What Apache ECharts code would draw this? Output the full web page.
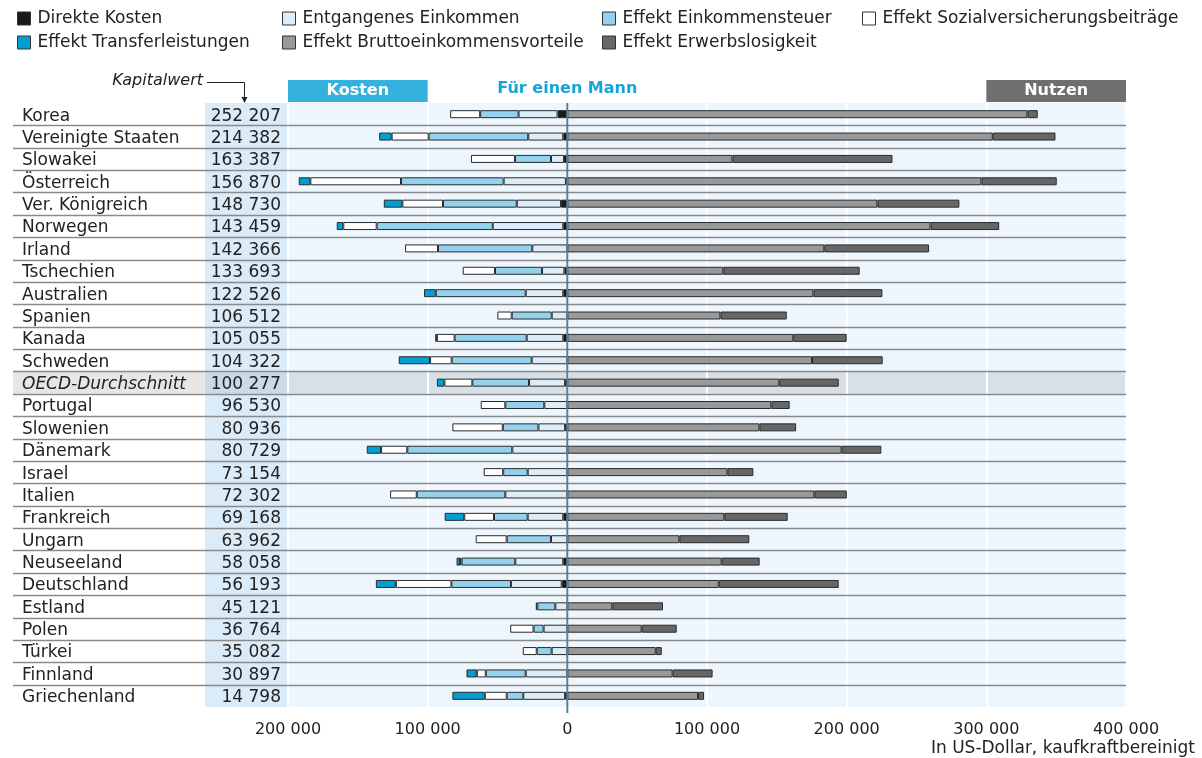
<!DOCTYPE html>
<html><head><meta charset="utf-8">
<script src="https://cdn.jsdelivr.net/npm/echarts@6/dist/echarts.min.js"></script>
<style>html,body{margin:0;padding:0;background:#fff}#c{width:1202px;height:758px}</style>
</head><body><div id="c"></div>
<script>
const categories = ['Korea','Vereinigte Staaten','Slowakei','Österreich','Ver. Königreich','Norwegen','Irland','Tschechien','Australien','Spanien','Kanada','Schweden','OECD-Durchschnitt','Portugal','Slowenien','Dänemark','Israel','Italien','Frankreich','Ungarn','Neuseeland','Deutschland','Estland','Polen','Türkei','Finnland','Griechenland'];
const kapitalwert = [252207,214382,163387,156870,148730,143459,142366,133693,122526,106512,105055,104322,100277,96530,80936,80729,73154,72302,69168,63962,58058,56193,45121,36764,35082,30897,14798];
// Kosten (positive numbers, drawn to the left)
const direkteKosten = [7000,2900,2400,1000,4500,2900,0,2100,2900,0,2900,0,1600,0,1600,0,0,0,2900,0,2900,4000,0,0,0,0,1600];
const entgangenesEinkommen = [27900,25100,9300,44600,31700,50500,25100,16000,26900,11200,26200,25500,25800,16500,19100,39400,28400,44400,25500,11700,34400,36300,8600,17000,11200,29800,29900];
const effektEinkommensteuer = [27500,71300,25800,73500,52800,83100,67500,33700,64400,28600,51600,57300,40600,27900,25500,75200,17500,63400,24100,31700,38400,42700,12900,7200,10700,28600,11900];
const effektSozialversicherung = [21500,26500,31500,64900,29100,23900,23600,23100,0,10300,12700,15500,20000,17600,36100,18800,14000,19100,21300,22200,1200,39800,1100,16700,10000,6400,15700];
const effektTransferleistungen = [0,8900,0,8300,13300,4700,0,0,8400,0,1200,22400,5400,0,0,10200,0,0,14000,0,2400,14300,0,0,0,7400,23200];
// Nutzen (drawn to the right)
const bruttoeinkommensvorteile = [329400,304600,118200,296500,222000,260000,184000,111700,176200,109600,161800,175200,151800,146100,137500,196400,114600,176900,112400,80200,110500,108400,32200,53200,63300,75400,93600];
const erwerbslosigkeit = [7400,44900,114600,53900,58700,49200,75000,97600,49400,47500,38200,50600,42500,13100,26300,28400,18600,23200,45400,50100,27200,85900,36300,25100,4300,28600,4300];
const xTicks = [-200000,-100000,0,100000,200000,300000,400000];

const FONT = 'DejaVu Sans';
const TXT = '#222';
const fmt = v => String(Math.abs(v)).replace(/\B(?=(\d{3})+(?!\d))/g, ' ');
const neg = a => a.map(v => v ? -v : '-');
const pos = a => a.map(v => v ? v : '-');

const seriesDef = [
  ['Direkte Kosten', neg(direkteKosten), '#1a1a1a'],
  ['Entgangenes Einkommen', neg(entgangenesEinkommen), '#dcedf9'],
  ['Effekt Einkommensteuer', neg(effektEinkommensteuer), '#94d1ec'],
  ['Effekt Sozialversicherungsbeiträge', neg(effektSozialversicherung), '#ffffff'],
  ['Effekt Transferleistungen', neg(effektTransferleistungen), '#039fd2'],
  ['Effekt Bruttoeinkommensvorteile', pos(bruttoeinkommensvorteile), '#999999'],
  ['Effekt Erwerbslosigkeit', pos(erwerbslosigkeit), '#676767']
];

const chart = echarts.init(document.getElementById('c'), null, {renderer: 'canvas'});

function legendCol(left, names) {
  return {
    left: left, top: 10, orient: 'vertical', padding: 0, itemGap: 7,
    itemWidth: 13, itemHeight: 13, icon: 'rect', selectedMode: false,
    itemStyle: {borderColor: '#333', borderWidth: 1},
    textStyle: {fontFamily: FONT, fontSize: 17, color: TXT, padding: [0, 0, 0, 2], lineHeight: 17},
    data: names
  };
}

chart.setOption({
  animation: false,
  textStyle: {fontFamily: FONT},
  legend: [
    legendCol(17, ['Direkte Kosten', 'Effekt Transferleistungen']),
    legendCol(282, ['Entgangenes Einkommen', 'Effekt Bruttoeinkommensvorteile']),
    legendCol(602, ['Effekt Einkommensteuer', 'Effekt Erwerbslosigkeit']),
    legendCol(862, ['Effekt Sozialversicherungsbeiträge'])
  ],
  title: {
    text: 'In US-Dollar, kaufkraftbereinigt', right: 7, top: 740, padding: 0,
    textStyle: {fontFamily: FONT, fontSize: 17, fontWeight: 'normal', color: TXT}
  },
  grid: {left: 288, right: 76, top: 103, bottom: 51, containLabel: false},
  xAxis: {
    type: 'value', min: xTicks[0], max: xTicks[xTicks.length - 1], interval: 100000, z: 1,
    axisLine: {show: false}, axisTick: {show: false},
    splitLine: {show: true, lineStyle: {color: '#ffffff', width: 2}},
    axisLabel: {margin: 15, fontFamily: FONT, fontSize: 16, color: TXT, formatter: v => fmt(v)}
  },
  yAxis: {
    type: 'category', data: categories, inverse: true, z: 5,
    axisLine: {show: false}, axisTick: {show: false}, splitLine: {show: false},
    axisLabel: {
      interval: 0, margin: 7,
      formatter: (v, i) => (v === 'OECD-Durchschnitt' ? '{ni|' : '{n|') + v + '}{k|' + fmt(kapitalwert[i]) + '}',
      rich: {
        n: {width: 183, align: 'left', fontFamily: FONT, fontSize: 17, color: TXT, padding: [4, 0, 0, 0]},
        ni: {width: 183, align: 'left', fontFamily: FONT, fontSize: 17, color: TXT, fontStyle: 'italic', padding: [4, 0, 0, 0]},
        k: {width: 76, align: 'right', fontFamily: FONT, fontSize: 17, color: TXT, padding: [4, 0, 0, 0]}
      }
    }
  },
  series: seriesDef.map(([name, data, color]) => ({
    name: name, type: 'bar', stack: 'total', data: data, barWidth: 8, silent: true, z: 2,
    itemStyle: {color: color, borderColor: '#2a2a2a', borderWidth: 1}
  }))
});

function decorate() {
  const xa = v => chart.convertToPixel({xAxisIndex: 0}, v);
  const ya = i => chart.convertToPixel({yAxisIndex: 0}, i);
  const bw = ya(1) - ya(0);
  const top = ya(0) - bw / 2;
  const bottom = ya(categories.length - 1) + bw / 2;
  const xL = xa(xTicks[0]), xR = xa(xTicks[xTicks.length - 1]), x0 = xa(0);
  const labelLeft = 13, kapLeft = 205;
  const els = [];
  els.push({type: 'rect', z: -5, shape: {x: kapLeft, y: top, width: xL - kapLeft, height: bottom - top}, style: {fill: '#dbebf8'}});
  els.push({type: 'rect', z: -5, shape: {x: xL, y: top, width: xR - xL, height: bottom - top}, style: {fill: '#eef6fd'}});
  const oi = categories.indexOf('OECD-Durchschnitt');
  const oy = ya(oi) - bw / 2;
  els.push({type: 'rect', z: -4, shape: {x: labelLeft, y: oy, width: kapLeft - labelLeft, height: bw}, style: {fill: '#e6e6e6'}});
  els.push({type: 'rect', z: -4, shape: {x: kapLeft, y: oy, width: xL - kapLeft, height: bw}, style: {fill: '#c8dbe6'}});
  els.push({type: 'rect', z: -4, shape: {x: xL, y: oy, width: xR - xL, height: bw}, style: {fill: '#d6e0e6'}});
  for (let i = 0; i < categories.length - 1; i++) {
    const y = Math.round(ya(i) + bw / 2) + 0.5;
    els.push({type: 'line', z: 3, shape: {x1: labelLeft, y1: y, x2: xR, y2: y}, style: {stroke: '#8a8a8a', lineWidth: 1.4}});
  }
  els.push({type: 'line', z: 4, shape: {x1: x0, y1: top, x2: x0, y2: bottom + 6}, style: {stroke: '#56809a', lineWidth: 2}});
  // headers
  const hx1 = xa(-100000), hx2 = xa(300000);
  els.push({type: 'rect', z: 5, shape: {x: xL, y: 80, width: hx1 - xL, height: 22}, style: {fill: '#35b1dd'}});
  els.push({type: 'text', z: 6, x: (xL + hx1) / 2, y: 91, style: {text: 'Kosten', fontFamily: FONT, fontSize: 16, fontWeight: 'bold', fill: '#fff', align: 'center', verticalAlign: 'middle', textAlign: 'center', textVerticalAlign: 'middle'}});
  els.push({type: 'rect', z: 5, shape: {x: hx2, y: 80, width: xR - hx2, height: 22}, style: {fill: '#6f6f6f'}});
  els.push({type: 'text', z: 6, x: (hx2 + xR) / 2, y: 91, style: {text: 'Nutzen', fontFamily: FONT, fontSize: 16, fontWeight: 'bold', fill: '#fff', align: 'center', verticalAlign: 'middle', textAlign: 'center', textVerticalAlign: 'middle'}});
  els.push({type: 'text', z: 6, x: x0, y: 89, style: {text: 'Für einen Mann', fontFamily: FONT, fontSize: 16, fontWeight: 'bold', fill: '#19a3d9', align: 'center', verticalAlign: 'middle', textAlign: 'center', textVerticalAlign: 'middle'}});
  // Kapitalwert annotation
  els.push({type: 'text', z: 6, x: 203, y: 81, style: {text: 'Kapitalwert', fontFamily: FONT, fontSize: 16, fontStyle: 'italic', fill: TXT, align: 'right', verticalAlign: 'middle', textAlign: 'right', textVerticalAlign: 'middle'}});
  els.push({type: 'polyline', z: 6, shape: {points: [[207, 82.5], [244.5, 82.5], [244.5, 98]]}, style: {stroke: '#222', lineWidth: 1, fill: null}});
  els.push({type: 'polygon', z: 6, shape: {points: [[241.5, 97], [247.5, 97], [244.5, 103]]}, style: {fill: '#222'}});
  chart.setOption({graphic: {elements: els}});
}
decorate();
</script>
</body></html>
